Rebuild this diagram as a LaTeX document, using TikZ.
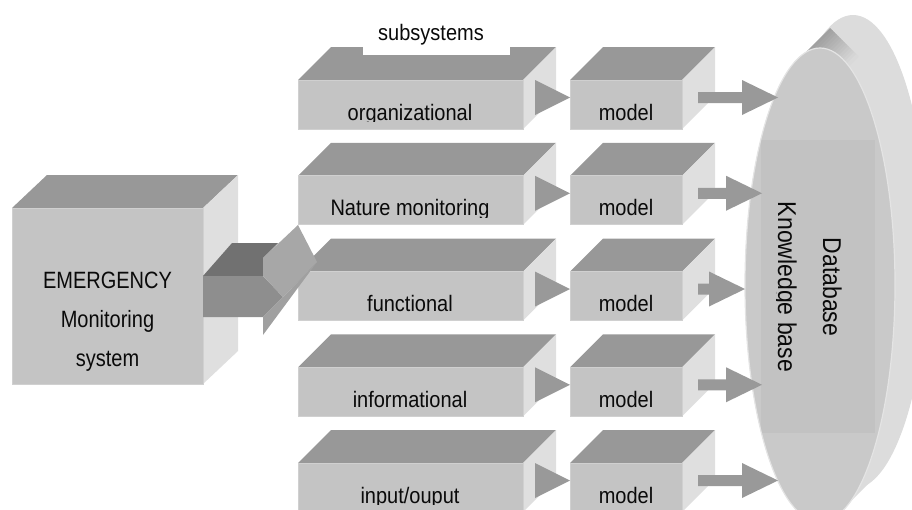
\documentclass[tikz,border=0pt]{standalone}
\usepackage{fontspec}
\setmainfont{Liberation Sans}
\definecolor{cfront}{HTML}{C4C4C4}
\definecolor{ctop}{HTML}{989898}
\definecolor{cside}{HTML}{DFDFDF}
\definecolor{cedge}{HTML}{D0D0D0}
\definecolor{carrow}{HTML}{999999}
\definecolor{ctext}{HTML}{0A0A0A}
\definecolor{cdbfront}{HTML}{C9C9C9}
\definecolor{cdbrect}{HTML}{C2C2C2}
\definecolor{cdbback}{HTML}{DCDCDC}
\definecolor{cdbline}{HTML}{E4E4E4}
\definecolor{cshafttop}{HTML}{717171}
\definecolor{cshaftfront}{HTML}{8E8E8E}
\definecolor{cheadup}{HTML}{A7A7A7}
\definecolor{cheadlow}{HTML}{A0A0A0}
\newcommand\drawcube[6]{%
  \fill[ctop] (#1,#2) -- (#1+#5,#2-#6) -- (#1+#3+#5,#2-#6) -- (#1+#3,#2) -- cycle;
  \fill[cside] (#1+#3,#2) -- (#1+#3+#5,#2-#6) -- (#1+#3+#5,#2+#4-#6) -- (#1+#3,#2+#4) -- cycle;
  \filldraw[cfront, draw=cedge, line width=0.8pt] (#1,#2) rectangle (#1+#3,#2+#4);
}
\newcommand\vstr[2]{\scalebox{1}[#1]{#2}}
\tikzset{
  lbl/.style={font=\fontsize{20}{24}\selectfont, text=ctext, inner sep=0pt, anchor=base},
  dbtxt/.style={font=\fontsize{23}{27}\selectfont, text=ctext, inner sep=0pt, anchor=base, rotate=-90},
  arrowfill/.style={fill=carrow},
}
\begin{document}
\begin{tikzpicture}[x=1pt,y=-1pt]
\useasboundingbox (0,0) rectangle (912,509);
\clip (0,0) rectangle (912,509);

% ---------- database disk ----------
\fill[cdbback] (853,252) ellipse [x radius=75, y radius=237];
\fill[cdbback] (797,61) -- (830,28) -- (876,476) -- (843,509) -- cycle;
\foreach \k in {0,...,13}{
  \pgfmathsetmacro\c{37-1.7*\k}
  \fill[black!\c] (797+2*\k,61+2*\k) -- (830+2*\k,28+2*\k) -- (832.5+2*\k,30.5+2*\k) -- (799.5+2*\k,63.5+2*\k) -- cycle;
}
\fill[cdbfront] (820,285) ellipse [x radius=75, y radius=237];
\begin{scope}
  \clip (820,285) ellipse [x radius=75, y radius=237];
  \fill[cdbrect] (761,140) rectangle (875,433);
\end{scope}
\draw[cdbline, line width=1.2pt] (820,285) ellipse [x radius=75, y radius=237];
\node[dbtxt] (db) at (823,287) {\vstr{1.12}{Database}};
\begin{scope}
  \clip (776.5,0) rectangle (912,509);
  \node[dbtxt] (kb) at (778,287) {\vstr{1.12}{Knowledge base}};
\end{scope}

% ---------- big box ----------
\drawcube{12}{208}{191}{176}{35}{33}
\node[lbl] (em1) at (107.5,288) {\vstr{1.18}{EMERGENCY}};
\node[lbl] (em2) at (107.5,327) {\vstr{1.18}{Monitoring}};
\node[lbl] (em3) at (107.5,366) {\vstr{1.18}{system}};

% ---------- rows ----------
\foreach \i/\lab/\tip in {0/organizational/778, 1/Nature monitoring/762, 2/functional/745, 3/informational/762, 4/{input/ouput}/778}{
  \pgfmathsetmacro\t{80+95.75*\i}
  \drawcube{298}{\t}{225}{49}{33}{33}
  \drawcube{570}{\t}{112}{49}{33}{33}
  \begin{scope}
    \clip (298,\t) rectangle (523,\t+41.5);
    \node[lbl] (sub\i) at (410,\t+40) {\vstr{1.12}{\lab}};
  \end{scope}
  \node[lbl] (mod\i) at (626,\t+40) {\vstr{1.12}{model}};
  \fill[arrowfill] (535,\t) -- (570,\t+17.5) -- (535,\t+35) -- cycle;
  \fill[arrowfill] (698,\t+12) -- (\tip-36,\t+12) -- (\tip-36,\t) -- (\tip,\t+17.5) -- (\tip-36,\t+35) -- (\tip-36,\t+23) -- (698,\t+23) -- cycle;
}

% ---------- subsystems label ----------
\fill[white] (363,45) rectangle (510,55);
\node[lbl] (subsys) at (431,40) {\vstr{1.12}{subsystems}};

% ---------- big 3D arrow ----------
\fill[cshafttop] (203,276) -- (232,243) -- (278,243) -- (263,258) -- (263,276) -- cycle;
\fill[cshaftfront] (203,276) -- (263,276) -- (283,297) -- (263,317) -- (203,317) -- cycle;
\fill[cheadup] (263,258) -- (298,225) -- (317,262) -- (283,297) -- (263,276) -- cycle;
\fill[cheadlow] (283,297) -- (317,262) -- (263,335) -- (263,317) -- cycle;
\end{tikzpicture}
\end{document}
